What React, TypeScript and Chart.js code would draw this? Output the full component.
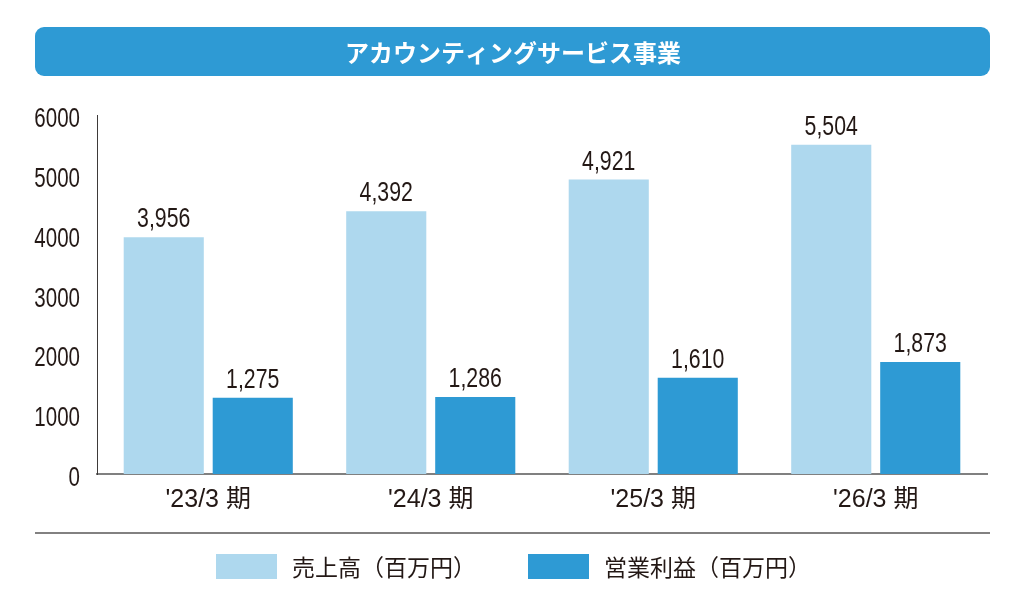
import React, { useEffect, useRef } from "react";
import { Chart, registerables } from "chart.js";

Chart.register(...registerables);

const TITLE = "アカウンティングサービス事業";
const categories = ["'23/3 期", "'24/3 期", "'25/3 期", "'26/3 期"];
const salesLabel = "売上高（百万円）";
const profitLabel = "営業利益（百万円）";
const sales = [3956, 4392, 4921, 5504];
const profit = [1275, 1286, 1610, 1873];
const yTicks = [0, 1000, 2000, 3000, 4000, 5000, 6000];

const LIGHT = "#AED8EE";
const DARK = "#2E9AD4";
const INK = "#231815";
const NUM_FONT = '"Liberation Sans", Arial, "Noto Sans CJK JP", sans-serif';
const JP_FONT = '"Noto Sans CJK JP", "Noto Sans", sans-serif';
// horizontal squeeze for the condensed numerals
const SQUEEZE = 0.76;

function condensedText(ctx: CanvasRenderingContext2D, text: string, x: number, y: number) {
  ctx.save();
  ctx.translate(x, y);
  ctx.scale(SQUEEZE, 1);
  ctx.fillText(text, 0, 0);
  ctx.restore();
}

// Header band, separator rule, y tick labels, value labels and legend
const decorations = {
  id: "decorations",
  beforeDraw(chart: any) {
    const ctx = chart.ctx;
    ctx.save();
    ctx.fillStyle = "#ffffff";
    ctx.fillRect(0, 0, chart.width, chart.height);
    ctx.fillStyle = DARK;
    ctx.beginPath();
    ctx.roundRect(35, 27, 955, 49, 9);
    ctx.fill();
    ctx.fillStyle = "#ffffff";
    ctx.font = `bold 24px ${JP_FONT}`;
    ctx.textAlign = "center";
    ctx.textBaseline = "middle";
    ctx.fillText(TITLE, 513, 53);

    ctx.strokeStyle = "#595757";
    ctx.lineWidth = 1.5;
    ctx.beginPath();
    ctx.moveTo(35, 533);
    ctx.lineTo(990, 533);
    ctx.stroke();
    ctx.restore();
  },
  afterDatasetsDraw(chart: any) {
    const ctx = chart.ctx;
    ctx.save();
    ctx.fillStyle = INK;
    ctx.textBaseline = "alphabetic";

    // y axis tick labels
    const yScale = chart.scales.y;
    ctx.font = `27px ${NUM_FONT}`;
    ctx.textAlign = "right";
    yTicks.forEach((v) => {
      condensedText(ctx, String(v), 80, yScale.getPixelForValue(v) + 12);
    });

    // values above bars
    ctx.font = `28px ${NUM_FONT}`;
    ctx.textAlign = "center";
    chart.data.datasets.forEach((ds: any, di: number) => {
      const meta = chart.getDatasetMeta(di);
      meta.data.forEach((bar: any, i: number) => {
        const v = ds.data[i] as number;
        condensedText(ctx, v.toLocaleString("en-US"), bar.x, bar.y - 10);
      });
    });

    // legend
    const itemX = [216, 528];
    ctx.font = `23px ${JP_FONT}`;
    ctx.textAlign = "left";
    ctx.textBaseline = "middle";
    chart.data.datasets.forEach((ds: any, di: number) => {
      const x = itemX[di];
      ctx.fillStyle = ds.backgroundColor;
      ctx.fillRect(x, 554, 61, 25);
      ctx.fillStyle = INK;
      ctx.fillText(ds.label, x + 76, 567);
    });
    ctx.restore();
  },
};

export default function App() {
  const ref = useRef<HTMLCanvasElement>(null);

  useEffect(() => {
    if (!ref.current) return;
    const chart = new Chart(ref.current, {
      type: "bar",
      data: {
        labels: categories,
        datasets: [
          { label: salesLabel, data: sales, backgroundColor: LIGHT },
          { label: profitLabel, data: profit, backgroundColor: DARK },
        ],
      },
      options: {
        responsive: false,
        animation: false,
        layout: { padding: { top: 115, left: 0, right: 38, bottom: 78 } },
        plugins: {
          legend: { display: false },
          title: { display: false },
          tooltip: { enabled: false },
        },
        scales: {
          x: {
            grid: { display: false, drawTicks: false },
            border: { color: "#808080", width: 2 },
            ticks: {
              color: INK,
              font: { family: NUM_FONT, size: 25 },
              padding: 11,
            },
            afterFit(scale: any) {
              scale.height = 59;
            },
          },
          y: {
            min: 0,
            max: 6000,
            afterBuildTicks(scale: any) {
              scale.ticks = yTicks.map((v) => ({ value: v }));
            },
            grid: { display: false, drawTicks: false },
            border: { color: "#3e3a39", width: 1 },
            ticks: { display: false },
            afterFit(scale: any) {
              scale.width = 97;
            },
          },
        },
      },
      plugins: [decorations],
    });
    return () => chart.destroy();
  }, []);

  return (
    <div style={{ position: "absolute", left: 0, top: 0, width: 1025, height: 611 }}>
      <canvas ref={ref} width={1025} height={611} />
    </div>
  );
}
